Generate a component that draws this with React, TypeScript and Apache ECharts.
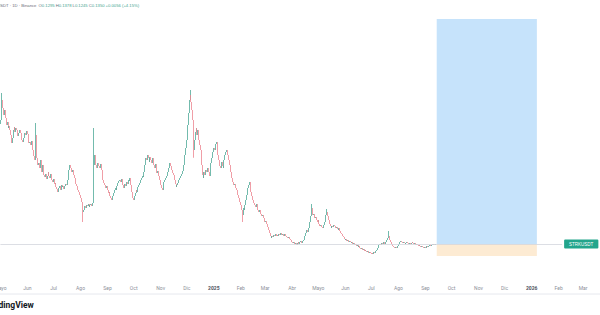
import React, { useEffect, useRef } from "react";
import * as echarts from "echarts";

// ---- data ----
const startDate = "2024-05-01";
const axisDays = 689;
const monthNames = ["Ene", "Feb", "Mar", "Abr", "Mayo", "Jun", "Jul", "Ago", "Sep", "Oct", "Nov", "Dic"];
const firstOpen = 0.615;
const closes = [
  0.631,0.663,0.711,0.679,0.651,0.671,0.639,0.611,0.623,0.599,
  0.607,0.591,0.571,0.539,0.559,0.591,0.603,0.583,0.599,0.591,
  0.567,0.579,0.591,0.579,0.563,0.551,0.543,0.559,0.579,0.571,
  0.587,0.575,0.559,0.539,0.543,0.531,0.547,0.511,0.487,0.471,
  0.503,0.571,0.479,0.451,0.459,0.439,0.471,0.431,0.423,0.451,
  0.411,0.403,0.415,0.395,0.407,0.423,0.407,0.399,0.415,0.391,
  0.383,0.395,0.375,0.379,0.363,0.355,0.343,0.359,0.367,0.351,
  0.371,0.363,0.367,0.355,0.367,0.375,0.371,0.391,0.411,0.431,
  0.451,0.439,0.423,0.431,0.411,0.399,0.391,0.375,0.367,0.351,
  0.343,0.331,0.319,0.303,0.279,0.263,0.271,0.287,0.279,0.291,
  0.287,0.295,0.283,0.291,0.295,0.287,0.299,0.451,0.491,0.463,
  0.451,0.439,0.459,0.447,0.439,0.455,0.431,0.411,0.391,0.379,
  0.371,0.359,0.367,0.351,0.339,0.343,0.327,0.319,0.311,0.327,
  0.339,0.351,0.359,0.351,0.367,0.379,0.387,0.391,0.383,0.395,
  0.379,0.371,0.359,0.375,0.367,0.383,0.375,0.391,0.387,0.399,
  0.371,0.343,0.319,0.311,0.327,0.339,0.351,0.343,0.363,0.371,
  0.379,0.391,0.399,0.407,0.403,0.423,0.451,0.479,0.471,0.491,
  0.479,0.463,0.483,0.471,0.459,0.479,0.451,0.439,0.455,0.431,
  0.419,0.427,0.407,0.391,0.371,0.359,0.351,0.367,0.383,0.391,
  0.399,0.407,0.423,0.439,0.451,0.459,0.447,0.431,0.419,0.411,
  0.391,0.375,0.363,0.371,0.379,0.391,0.399,0.407,0.415,0.427,
  0.431,0.451,0.491,0.519,0.551,0.611,0.659,0.711,0.731,0.703,
  0.671,0.631,0.511,0.551,0.583,0.599,0.571,0.591,0.551,0.531,
  0.511,0.451,0.411,0.399,0.423,0.411,0.431,0.423,0.439,0.423,
  0.407,0.431,0.459,0.479,0.503,0.519,0.511,0.535,0.543,0.527,
  0.491,0.471,0.447,0.439,0.463,0.447,0.439,0.471,0.491,0.503,
  0.511,0.491,0.471,0.451,0.439,0.423,0.399,0.383,0.371,0.375,
  0.359,0.351,0.343,0.331,0.319,0.303,0.291,0.271,0.251,0.279,
  0.271,0.291,0.311,0.331,0.359,0.371,0.383,0.367,0.343,0.327,
  0.311,0.299,0.291,0.283,0.295,0.279,0.271,0.263,0.271,0.255,
  0.247,0.251,0.239,0.231,0.223,0.227,0.215,0.203,0.191,0.179,
  0.167,0.159,0.167,0.163,0.171,0.167,0.175,0.167,0.171,0.167,
  0.175,0.171,0.179,0.171,0.175,0.167,0.171,0.175,0.167,0.163,
  0.159,0.163,0.155,0.151,0.147,0.143,0.139,0.143,0.135,0.139,
  0.131,0.139,0.143,0.135,0.143,0.147,0.139,0.147,0.151,0.159,
  0.167,0.179,0.191,0.183,0.199,0.223,0.247,0.255,0.279,0.251,
  0.255,0.239,0.243,0.231,0.223,0.231,0.215,0.207,0.211,0.203,
  0.199,0.211,0.223,0.239,0.251,0.263,0.247,0.231,0.215,0.207,
  0.199,0.207,0.203,0.211,0.207,0.199,0.203,0.195,0.191,0.199,
  0.187,0.179,0.175,0.167,0.163,0.155,0.151,0.155,0.147,0.151,
  0.143,0.147,0.143,0.139,0.143,0.135,0.139,0.131,0.135,0.127,
  0.131,0.123,0.127,0.119,0.115,0.119,0.111,0.115,0.107,0.111,
  0.107,0.103,0.107,0.099,0.103,0.099,0.095,0.099,0.095,0.103,
  0.099,0.107,0.111,0.119,0.123,0.131,0.135,0.131,0.139,0.135,
  0.143,0.135,0.139,0.143,0.151,0.159,0.167,0.151,0.143,0.135,
  0.131,0.127,0.123,0.119,0.123,0.119,0.127,0.135,0.139,0.143,
  0.147,0.143,0.139,0.143,0.139,0.135,0.139,0.143,0.139,0.135,
  0.139,0.135,0.139,0.143,0.139,0.135,0.139,0.131,0.135,0.131,
  0.127,0.131,0.127,0.123,0.127,0.123,0.119,0.123,0.119,0.123,
  0.127,0.123,0.127,0.131,0.127,0.131,0.135,0.131,0.135,0.131,
  0.135,
];
// notable wicks: [day index, high, low]
const wicks: [number, number | null, number | null][] = [
  [2, 0.739, null],
  [41, 0.619, null],
  [95, null, 0.223],
  [107, 0.599, null],
  [218, 0.751, null],
  [222, null, 0.48],
  [278, null, 0.223],
  [358, 0.295, null],
  [375, 0.275, null],
  [446, 0.187, null],
];
// long position tool
const posStartIdx = 501;
const posEndIdx = 616;
const entryPrice = 0.135;
const targetPrice = 1.035;
const stopPrice = 0.087;
const priceLineEndIdx = 645;
const symbolLabel = "STRKUSDT";
const headerName = "STRKUSDT · 1D · Binance";
const ohlc = [["O", "0.1295"], ["H", "0.1378"], ["L", "0.1245"], ["C", "0.1350"]];
const change = "+0.0056 (+4.15%)";

const UP = "#4faa98";
const DOWN = "#ec8590";

function buildDates(): string[] {
  const out: string[] = [];
  const t0 = Date.parse(startDate + "T00:00:00Z");
  for (let i = 0; i < axisDays; i++) {
    out.push(new Date(t0 + i * 86400000).toISOString().slice(0, 10));
  }
  return out;
}

export default function App() {
  const ref = useRef<HTMLDivElement>(null);
  useEffect(() => {
    document.body.style.margin = "0";
    if (!ref.current) return;
    const chart = echarts.init(ref.current, null, { renderer: "svg" });
    const dates = buildDates();
    const candles = closes.map((c, i) => {
      const o = i === 0 ? firstOpen : closes[i - 1];
      return [o, c, Math.min(o, c), Math.max(o, c)];
    });
    wicks.forEach(([i, h, l]) => {
      if (h != null) candles[i][3] = h;
      if (l != null) candles[i][2] = l;
    });
    const headerRich: any = {
      n: { fill: "#6a6d78", fontSize: 4.2 },
      k: { fill: "#6a6d78", fontSize: 4.2 },
      v: { fill: "#3fa58f", fontSize: 4.2 },
    };
    let headerText = `{n|${headerName}}  `;
    ohlc.forEach(([k, v]) => {
      headerText += `{k|${k}}{v|${v}} `;
    });
    headerText += `{v|${change}}`;

    chart.setOption({
      animation: false,
      backgroundColor: "#ffffff",
      grid: { left: 0, right: 0, top: 17.75, bottom: 37.25, containLabel: false, outerBoundsMode: "none" },
      xAxis: {
        type: "category",
        data: dates,
        boundaryGap: true,
        axisLine: { show: false },
        axisTick: { show: false },
        splitLine: { show: false },
        axisLabel: {
          interval: (_i: number, v: string) => v.slice(8) === "01",
          formatter: (v: string) => {
            const m = Number(v.slice(5, 7));
            if (m === 1) return `{y|${v.slice(0, 4)}}`;
            return monthNames[m - 1];
          },
          fontSize: 5,
          color: "#8c8f99",
          margin: 8,
          fontFamily: "Roboto",
          rich: { y: { fontSize: 5, fontWeight: "bold", color: "#50535e", fontFamily: "Roboto" } },
        },
      },
      yAxis: { type: "value", min: 0, max: 1.04, show: false, splitLine: { show: false } },
      series: [
        {
          type: "candlestick",
          data: candles,
          itemStyle: { color: UP, color0: DOWN, borderColor: UP, borderColor0: DOWN, borderWidth: 0.8 },
          markArea: {
            silent: true,
            data: [
              [
                { xAxis: dates[posStartIdx], yAxis: entryPrice, itemStyle: { color: "#c6e3fb" } },
                { xAxis: dates[posEndIdx], yAxis: targetPrice },
              ],
              [
                { xAxis: dates[posStartIdx], yAxis: stopPrice, itemStyle: { color: "#fdebd3" } },
                { xAxis: dates[posEndIdx], yAxis: entryPrice },
              ],
            ],
          },
          markLine: {
            silent: true,
            symbol: "none",
            lineStyle: { color: "#d3d6dd", type: "solid", width: 0.8 },
            label: {
              show: true,
              position: "end",
              distance: 2,
              formatter: symbolLabel,
              backgroundColor: "#22a58c",
              color: "#ffffff",
              fontSize: 4.5,
              padding: [2, 5, 2, 5],
              borderRadius: 1,
            },
            data: [
              [
                { coord: [dates[0], entryPrice] },
                { coord: [dates[priceLineEndIdx], entryPrice] },
              ],
            ],
          },
        },
      ],
      graphic: [
        {
          type: "text",
          left: -14,
          top: 3,
          style: { text: headerText, rich: headerRich, fontSize: 4.2, fontFamily: "Roboto" },
        },
        {
          type: "line",
          shape: { x1: 0, y1: 294, x2: 600, y2: 294 },
          style: { stroke: "#e6e8ee", lineWidth: 1 },
        },
        {
          type: "text",
          left: -14,
          top: 300,
          style: { text: "TradingView", fontSize: 8.5, fontWeight: "bold", fill: "#131722", fontFamily: "Roboto" },
        },
      ],
    });
    return () => chart.dispose();
  }, []);
  return <div ref={ref} style={{ position: "fixed", left: 0, top: 0, width: 600, height: 315 }} />;
}
